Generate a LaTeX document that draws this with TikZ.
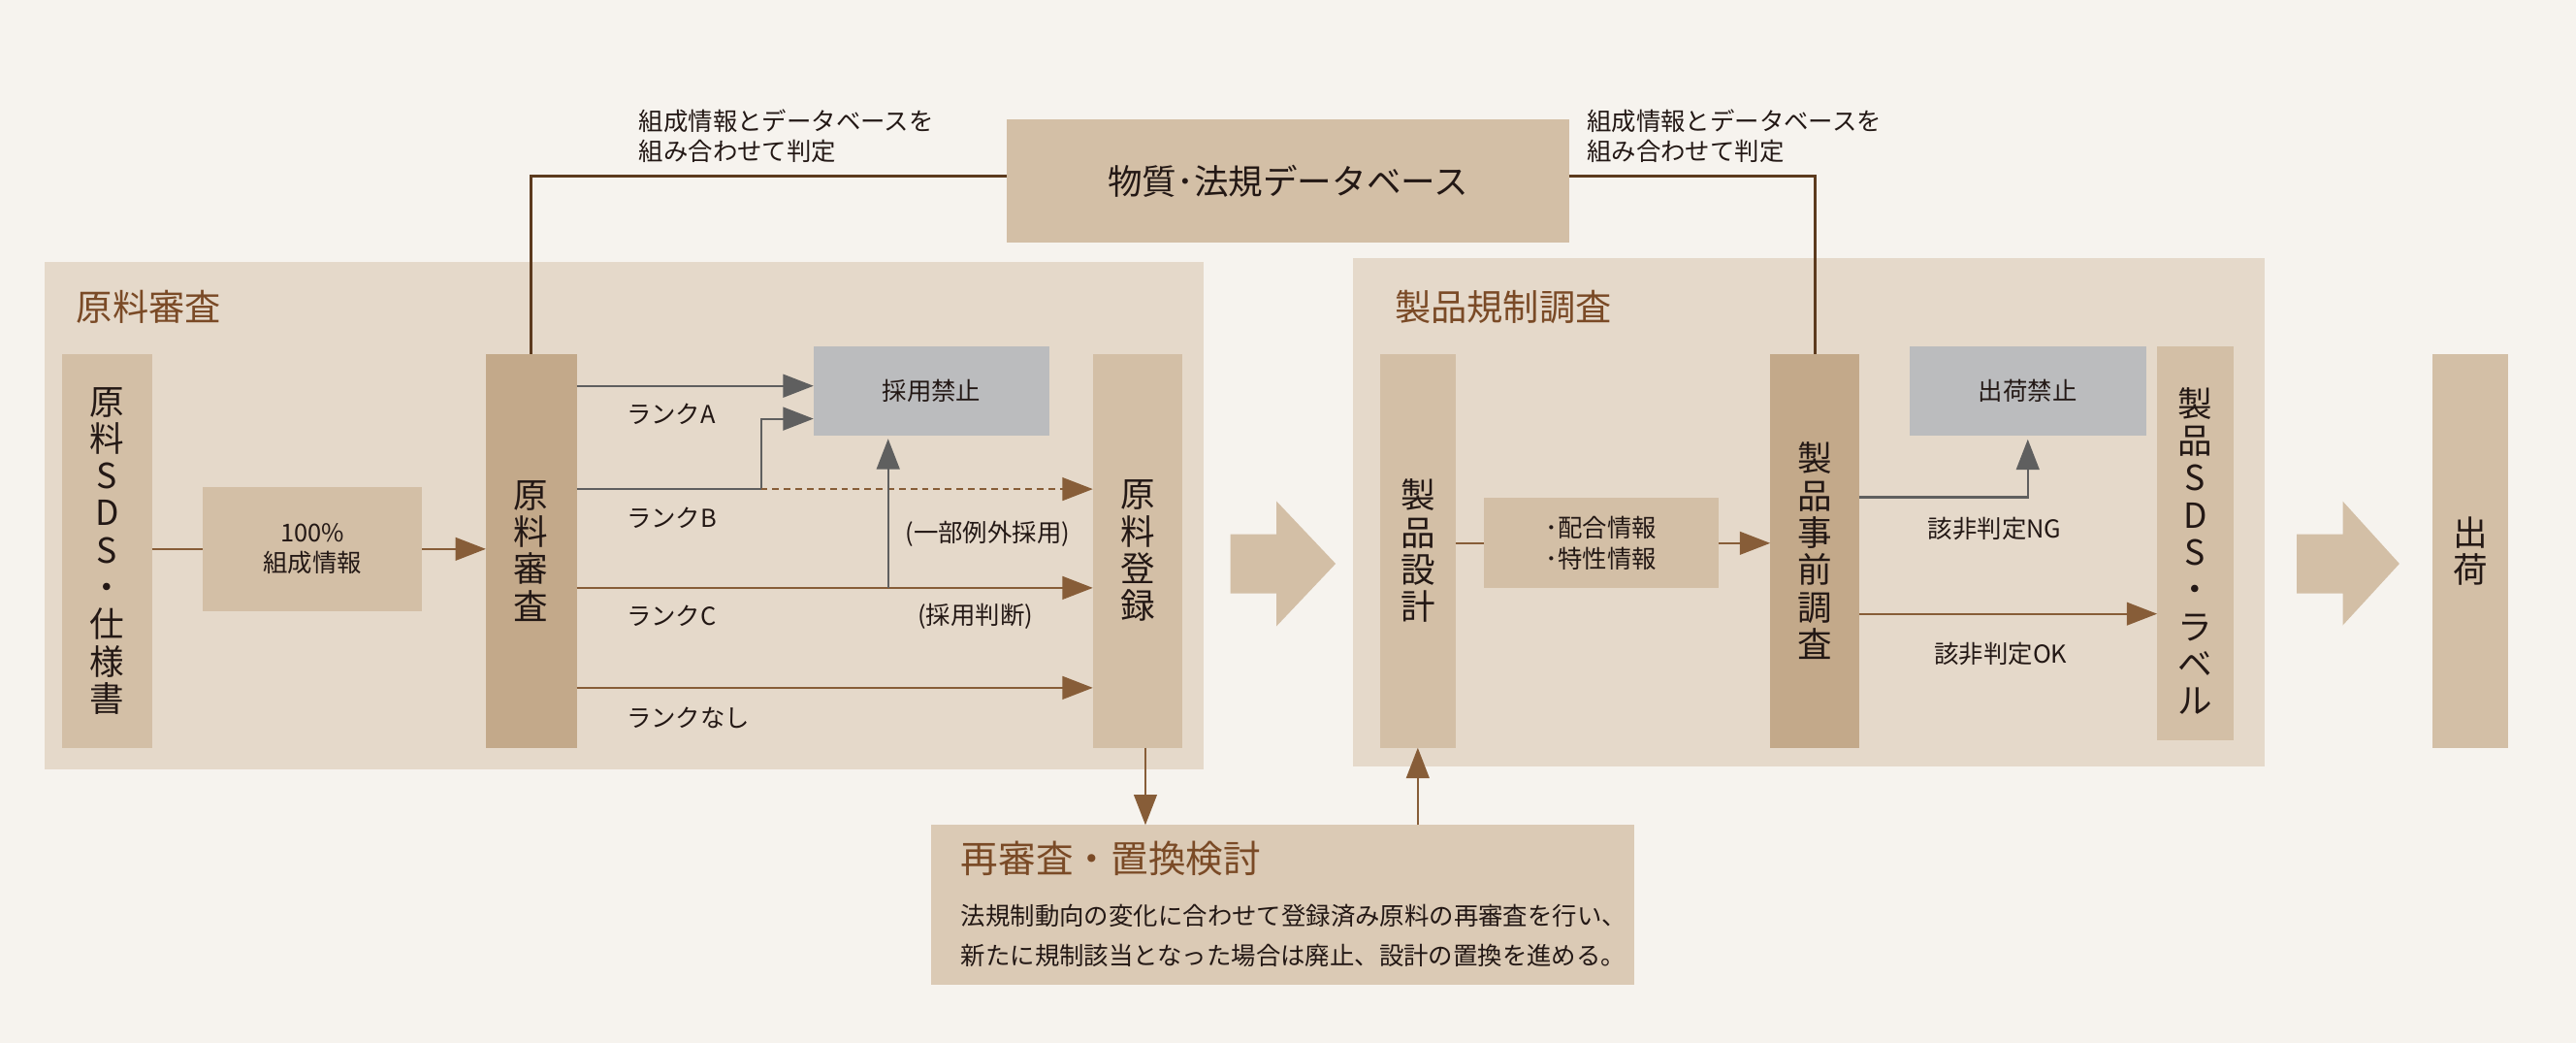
\documentclass[tikz,border=0pt]{standalone}
\usepackage{fontspec}
\setmainfont{Noto Sans CJK JP}
\usetikzlibrary{arrows.meta,calc}
\definecolor{bgc}{HTML}{F6F3EE}
\definecolor{panelc}{HTML}{E5D9CA}
\definecolor{boxc}{HTML}{D3BFA6}
\definecolor{darkc}{HTML}{C3A98A}
\definecolor{grayc}{HTML}{BBBCBE}
\definecolor{revc}{HTML}{DBCAB5}
\definecolor{arrc}{HTML}{875D38}
\definecolor{dbc}{HTML}{5C3A1E}
\definecolor{titlec}{HTML}{7A4A26}
\definecolor{glc}{HTML}{5F5F5F}
\definecolor{txt}{HTML}{231815}
\newcommand\mysmall{\fontsize{15}{18.5}\selectfont}
\newcommand\myvert{\fontsize{21}{22.6}\selectfont}
\newcommand\mytitle{\fontsize{22}{26}\selectfont}
\newcommand\mydb{\fontsize{21}{24}\selectfont}
\begin{document}
\begin{tikzpicture}[x=1pt,y=-1pt,
  every node/.style={inner sep=0pt,outer sep=0pt,text=txt},
  lbox/.style={fill=boxc,align=center,font=\myvert},
  dbox/.style={fill=darkc,align=center,font=\myvert},
  gbox/.style={fill=grayc,align=center,font=\mysmall},
  lbl/.style={anchor=west,font=\mysmall},
  ttl/.style={anchor=west,font=\mytitle,text=titlec},
  bline/.style={draw=arrc,line width=1.2pt},
  barrow/.style={draw=arrc,line width=1.2pt,-{Triangle[length=18.5pt,width=14pt]}},
  gline/.style={draw=glc,line width=1.3pt},
  garrow/.style={draw=glc,line width=1.3pt,-{Triangle[length=18.5pt,width=14pt]}},
  dbline/.style={draw=dbc,line width=1.5pt}]
\fill[bgc] (0,0) rectangle (1568,634.6);
\useasboundingbox (0,0) rectangle (1568,634.6);

% panels
\node[fill=panelc,minimum width=705.9pt,minimum height=308.8pt] (pL) at (379.85,313.6) {};
\node[fill=panelc,minimum width=554.8pt,minimum height=309.2pt] (pR) at (1101,311.6) {};
\node[fill=boxc,minimum width=342.3pt,minimum height=75.1pt,font=\mydb] (db) at (784.05,110.25) {物質･法規データベース};

\node[ttl] (tL) at (46.5,186.8) {原料審査};
\node[ttl] (tR) at (849,186.8) {製品規制調査};

\node[lbl,align=left] (annL) at (389,82.75) {組成情報とデータベースを\\組み合わせて判定};
\node[lbl,align=left] (annR) at (966,82.75) {組成情報とデータベースを\\組み合わせて判定};

% left panel boxes
\node[lbox,minimum width=54.8pt,minimum height=239.7pt] (sds) at (65.1,335.15) {原\\料\\S\\D\\S\\・\\仕\\様\\書};
\node[lbox,font=\mysmall,minimum width=133.6pt,minimum height=75.7pt] (comp) at (190.2,334.05) {100\%\\組成情報};
\node[dbox,minimum width=55.3pt,minimum height=239.7pt] (rev) at (323.35,335.15) {原\\料\\審\\査};
\node[gbox,minimum width=143.7pt,minimum height=54.4pt] (ban) at (567.05,237.8) {採用禁止};
\node[lbox,minimum width=54.4pt,minimum height=239.5pt] (reg) at (692.4,335.25) {原\\料\\登\\録};

% right panel boxes
\node[lbox,minimum width=46pt,minimum height=239.7pt] (des) at (863,335.15) {製\\品\\設\\計};
\node[lbox,font=\mysmall,minimum width=143pt,minimum height=55pt] (mix) at (974.5,330.5) {･配合情報\\･特性情報};
\node[dbox,minimum width=54.5pt,minimum height=239.7pt] (pre) at (1104.75,335.15) {製\\品\\事\\前\\調\\査};
\node[gbox,minimum width=143.8pt,minimum height=54.8pt] (sban) at (1234.3,237.9) {出荷禁止};
\node[lbox,minimum width=46.3pt,minimum height=239.7pt] (lab) at (1336.15,330.35) {};
\node[font=\myvert,align=center] (labt) at (1336.15,335.3) {製\\品\\S\\D\\S\\・\\ラ\\ベ\\ル};
\node[lbox,minimum width=46pt,minimum height=239.7pt] (ship) at (1503.6,335.15) {出\\荷};

% big arrows
\fill[boxc] (749,325) -- (777,325) -- (777,305) -- (813,343) -- (777,381) -- (777,361) -- (749,361) -- cycle;
\fill[boxc] (1398,325) -- (1426,325) -- (1426,305) -- (1460.5,343) -- (1426,380.5) -- (1426,361) -- (1398,361) -- cycle;

% review box
\node[fill=revc,minimum width=428.3pt,minimum height=97pt] (rb) at (780.85,550.5) {};
\node[ttl,font=\fontsize{22.8}{26}\selectfont] (rbt) at (585,522.5) {再審査・置換検討};
\node[lbl] (rb1) at (585,557) {法規制動向の変化に合わせて登録済み原料の再審査を行い、};
\node[lbl] (rb2) at (585,581.5) {新たに規制該当となった場合は廃止、設計の置換を進める。};

% DB connectors
\coordinate (yDB) at (0,107.3);
\draw[dbline] (rev.north) |- (db.west |- yDB);
\draw[dbline] (db.east |- yDB) -| (pre.north);

% left connectors
\draw[bline] (sds.east |- comp.west) -- (comp.west);
\draw[barrow] (comp.east) -- (comp.east -| rev.west);

\coordinate (yA) at (0,234.8);
\coordinate (yB) at (0,297.6);
\coordinate (yB2) at (0,254.8);
\coordinate (yC) at (0,357.7);
\coordinate (yN) at (0,418.5);
\coordinate (jB) at (463.2,297.6);
\coordinate (jC) at (540.6,357.7);
\draw[garrow] (rev.east |- yA) -- (ban.west |- yA);
\draw[gline] (rev.east |- yB) -- (jB);
\draw[garrow] (jB) |- (ban.west |- yB2);
\draw[barrow,dash pattern=on 4pt off 3pt] (jB) -- (reg.west |- yB);
\draw[barrow] (rev.east |- yC) -- (reg.west |- yC);
\draw[garrow,shorten >=2pt] (jC) -- (jC |- ban.south);
\draw[barrow] (rev.east |- yN) -- (reg.west |- yN);

\node[lbl] (lA) at (381.4,251.9) {ランクA};
\node[lbl] (lB) at (381.4,315.2) {ランクB};
\node[lbl] (lC) at (381.4,374.9) {ランクC};
\node[lbl] (lN) at (381.4,436.8) {ランクなし};
\node[font=\mysmall] (exc) at (601.2,325) {(一部例外採用)};
\node[font=\mysmall] (jud) at (593.7,375) {(採用判断)};

% right connectors
\draw[bline] (des.east |- mix.west) -- (mix.west);
\draw[barrow] (mix.east) -- (mix.east -| pre.west);
\coordinate (yNG) at (0,302.6);
\coordinate (yOK) at (0,373.5);
\draw[garrow,shorten >=2pt] (pre.east |- yNG) -| (sban.south);
\draw[barrow] (pre.east |- yOK) -- (lab.west |- yOK);
\node[lbl] (ng) at (1173.6,321.7) {該非判定NG};
\node[lbl] (ok) at (1177.4,397.7) {該非判定OK};

% bottom connectors
\coordinate (xD) at (697.2,0);
\draw[barrow] (xD |- reg.south) -- (xD |- rb.north);
\draw[barrow] (rb.north -| des.south) -- (des.south);
\end{tikzpicture}
\end{document}
